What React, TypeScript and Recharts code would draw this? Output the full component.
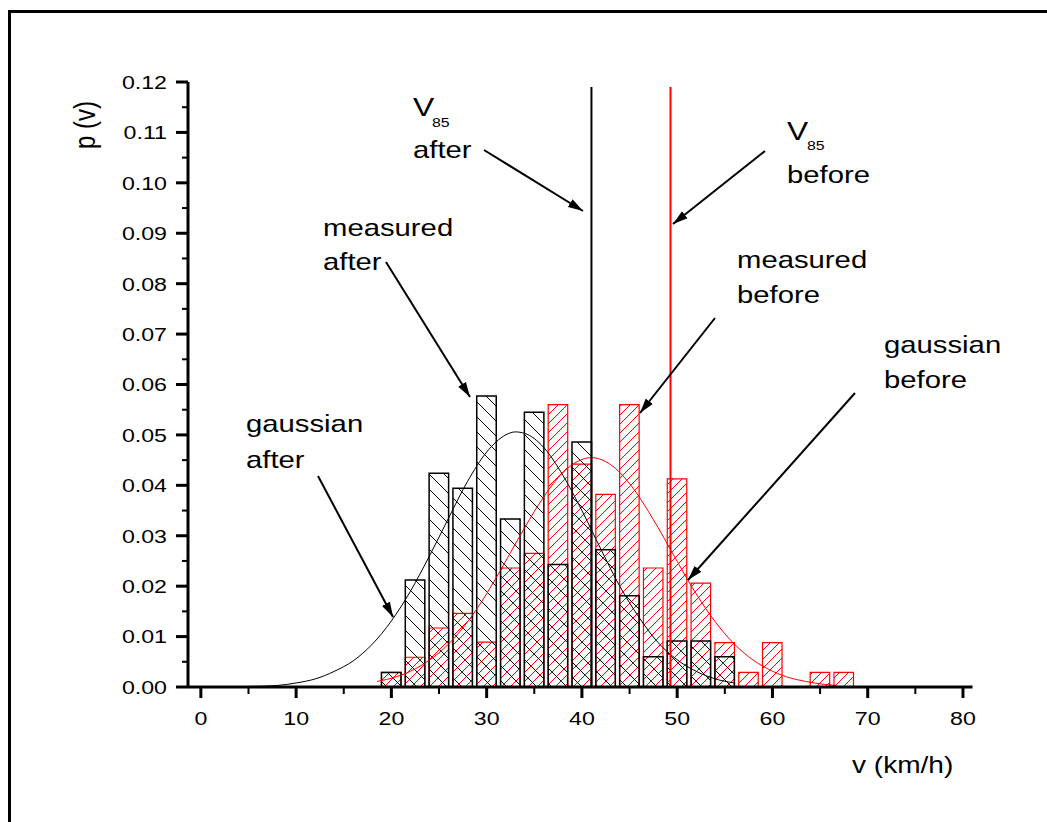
import React from 'react';
import { ComposedChart, Bar, Line, XAxis, YAxis, ReferenceLine } from 'recharts';

// ---------- data ----------
const bins = [20, 22.5, 25, 27.5, 30, 32.5, 35, 37.5, 40, 42.5, 45, 47.5, 50, 52.5, 55, 57.5, 60, 62.5, 65, 67.5];
const measuredAfter = [0.0029, 0.0212, 0.0424, 0.0394, 0.0577, 0.0333, 0.0545, 0.0243, 0.0486, 0.0272, 0.0181, 0.006, 0.0091, 0.0091, 0.006, null, null, null, null, null];
const measuredBefore = [0.0029, 0.0059, 0.0117, 0.0146, 0.0089, 0.0236, 0.0265, 0.056, 0.0442, 0.0382, 0.056, 0.0236, 0.0413, 0.0206, 0.0088, 0.0029, 0.0088, 0, 0.0029, 0.0029];

const gaussAfterV = [5, 8, 10, 12, 14, 16, 18, 20, 22, 24, 26, 28, 30, 32, 33, 34, 36, 38, 40, 42, 44, 46, 48, 50, 52, 54, 56];
const gaussAfterP = [0.0001, 0.0003, 0.0008, 0.0016, 0.0031, 0.0052, 0.0085, 0.0131, 0.019, 0.026, 0.0335, 0.0408, 0.0466, 0.05, 0.0506, 0.0503, 0.0475, 0.042, 0.035, 0.0273, 0.0199, 0.0138, 0.0088, 0.0054, 0.0031, 0.0016, 0.0008];

const gaussBeforeV = [18.5, 19.5, 21.5, 23.5, 25.5, 27.5, 29.5, 31.5, 33.5, 35.5, 37.5, 39.5, 41, 42.5, 43.5, 45.5, 47.5, 49.5, 51.5, 53.5, 55.5, 57.5, 59.5, 61.5, 63.5, 65.5, 66.7];
const gaussBeforeP = [0.0011, 0.0015, 0.0027, 0.0047, 0.0076, 0.0117, 0.017, 0.0233, 0.03, 0.0363, 0.0415, 0.0447, 0.0455, 0.0447, 0.0434, 0.0391, 0.0332, 0.0266, 0.02, 0.0142, 0.0095, 0.006, 0.0036, 0.002, 0.0011, 0.0005, 0.0003];

const v85After = 41.0;
const v85Before = 49.3;
const v85Top = 0.119;

const xTicks = [0, 5, 10, 15, 20, 25, 30, 35, 40, 45, 50, 55, 60, 65, 70, 75, 80];
const yTicks = [0, 0.005, 0.01, 0.015, 0.02, 0.025, 0.03, 0.035, 0.04, 0.045, 0.05, 0.055, 0.06, 0.065, 0.07, 0.075, 0.08, 0.085, 0.09, 0.095, 0.1, 0.105, 0.11, 0.115, 0.12];

const barData = bins.map((v, i) => ({ v, after: measuredAfter[i], before: measuredBefore[i] }));
const gaussAfterData = gaussAfterV.map((v, i) => ({ v, g: gaussAfterP[i] }));
const gaussBeforeData = gaussBeforeV.map((v, i) => ({ v, g: gaussBeforeP[i] }));

// ---------- style ----------
const FONT = '"Liberation Sans", Arial, Helvetica, sans-serif';
const SX = 1.22;
const RED = '#ff0000';
const X_DOMAIN = [-1.35, 81];

function SText(props: any) {
  const { x, y, size, anchor = 'start', children, rotate, dy } = props;
  const t = `translate(${x},${y}) scale(${SX},1)` + (rotate ? ` rotate(${rotate})` : '');
  return (
    <text transform={t} x={0} y={0} dy={dy} fontSize={size} fontFamily={FONT} textAnchor={anchor} fill="#000">
      {children}
    </text>
  );
}

function XTick(props: any) {
  const { x, y, payload } = props;
  const v = payload.value;
  const major = Math.round(v) % 10 === 0;
  return (
    <g>
      <line x1={x} y1={y} x2={x} y2={y + (major ? 11 : 7)} stroke="#000" strokeWidth={major ? 3 : 2} />
      {major && <SText x={x} y={y + 38} size={19} anchor="middle">{String(v)}</SText>}
    </g>
  );
}

function YTick(props: any) {
  const { x, y, payload } = props;
  const v = payload.value;
  const major = Math.round(v * 1000) % 10 === 0;
  return (
    <g>
      <line x1={x - (major ? 12 : 6)} y1={y} x2={x} y2={y} stroke="#000" strokeWidth={major ? 3 : 2} />
      {major && <SText x={x - 21} y={y} dy="0.36em" size={19} anchor="end">{v.toFixed(2)}</SText>}
    </g>
  );
}

function Arrow(props: any) {
  const { x1, y1, x2, y2 } = props;
  return <line x1={x1} y1={y1} x2={x2} y2={y2} stroke="#000" strokeWidth={2} markerEnd="url(#arrowHead)" />;
}

export default function App() {
  return (
    <div style={{ position: 'absolute', left: 0, top: 0, width: 1047, height: 822, background: '#fff' }}>
      <svg width={0} height={0} style={{ position: 'absolute' }}>
        <defs>
          <pattern id="hatchBlack" patternUnits="userSpaceOnUse" width={15} height={15}>
            <path d="M0,0 L15,15 M-2,13 L2,17 M13,-2 L17,2" stroke="#000" strokeWidth={1} fill="none" />
          </pattern>
          <pattern id="hatchRed" patternUnits="userSpaceOnUse" width={9} height={9}>
            <path d="M0,9 L9,0 M-2,2 L2,-2 M7,11 L11,7" stroke={RED} strokeWidth={1} fill="none" />
          </pattern>
        </defs>
      </svg>
      <ComposedChart
        width={1047}
        height={822}
        data={barData}
        margin={{ top: 82, right: 74.5, bottom: 105, left: 128 }}
      >
        <XAxis
          dataKey="v"
          type="number"
          domain={X_DOMAIN}
          ticks={xTicks}
          interval={0}
          allowDataOverflow
          height={30}
          tickSize={0}
          tickMargin={0}
          tickLine={false}
          axisLine={{ stroke: '#000', strokeWidth: 3 }}
          tick={<XTick />}
        />
        <XAxis xAxisId="barsA" dataKey="v" type="number" domain={X_DOMAIN} allowDataOverflow hide />
        <XAxis xAxisId="barsB" dataKey="v" type="number" domain={X_DOMAIN} allowDataOverflow hide />
        <YAxis
          type="number"
          domain={[0, 0.12]}
          ticks={yTicks}
          interval={0}
          allowDataOverflow
          width={60}
          tickSize={0}
          tickMargin={0}
          tickLine={false}
          axisLine={{ stroke: '#000', strokeWidth: 3 }}
          tick={<YTick />}
        />
        <Bar xAxisId="barsB" dataKey="before" barSize={19.5} fill="url(#hatchRed)" stroke={RED} strokeWidth={1.2} isAnimationActive={false} />
        <Bar xAxisId="barsA" dataKey="after" barSize={19.5} fill="url(#hatchBlack)" stroke="#000" strokeWidth={1.5} isAnimationActive={false} />
        <Line data={gaussAfterData} dataKey="g" type="monotone" stroke="#000" strokeWidth={1} dot={false} activeDot={false} isAnimationActive={false} />
        <Line data={gaussBeforeData} dataKey="g" type="monotone" stroke={RED} strokeWidth={1} dot={false} activeDot={false} isAnimationActive={false} />
        <ReferenceLine segment={[{ x: v85After, y: 0 }, { x: v85After, y: v85Top }]} stroke="#000" strokeWidth={2} />
        <ReferenceLine segment={[{ x: v85Before, y: 0 }, { x: v85Before, y: v85Top }]} stroke={RED} strokeWidth={2} />
      </ComposedChart>
      <svg width={1047} height={822} style={{ position: 'absolute', left: 0, top: 0, pointerEvents: 'none' }}>
        <defs>
          <marker id="arrowHead" markerUnits="userSpaceOnUse" markerWidth={16} markerHeight={10} refX={15} refY={5} orient="auto">
            <path d="M0,0.5 L15,5 L0,9.5 z" fill="#000" />
          </marker>
        </defs>
        {/* frame */}
        <path d="M9.5,822 L9.5,11.5 L1047,11.5" stroke="#000" strokeWidth={3} fill="none" />
        {/* axis titles */}
        <SText x={95} y={125} size={24} anchor="middle" rotate={-90}>p (v)</SText>
        <SText x={852} y={773} size={23} anchor="start">v (km/h)</SText>
        {/* V85 after */}
        <SText x={413} y={116} size={26}>V</SText>
        <SText x={432} y={127} size={13}>85</SText>
        <SText x={413} y={158} size={24}>after</SText>
        <Arrow x1={484} y1={150} x2={583} y2={211} />
        {/* V85 before */}
        <SText x={787} y={140} size={26}>V</SText>
        <SText x={807} y={150} size={13}>85</SText>
        <SText x={787} y={183} size={24}>before</SText>
        <Arrow x1={765} y1={151} x2={673} y2={224} />
        {/* measured after */}
        <SText x={323} y={236} size={24}>measured</SText>
        <SText x={323} y={270} size={24}>after</SText>
        <Arrow x1={386} y1={262} x2={470} y2={397} />
        {/* measured before */}
        <SText x={737} y={268} size={24}>measured</SText>
        <SText x={737} y={303} size={24}>before</SText>
        <Arrow x1={715} y1={318} x2={640} y2={413} />
        {/* gaussian before */}
        <SText x={884} y={353} size={24}>gaussian</SText>
        <SText x={884} y={388} size={24}>before</SText>
        <Arrow x1={855} y1={393} x2={688} y2={580} />
        {/* gaussian after */}
        <SText x={246} y={432} size={24}>gaussian</SText>
        <SText x={246} y={468} size={24}>after</SText>
        <Arrow x1={318} y1={476} x2={393} y2={617} />
      </svg>
    </div>
  );
}
